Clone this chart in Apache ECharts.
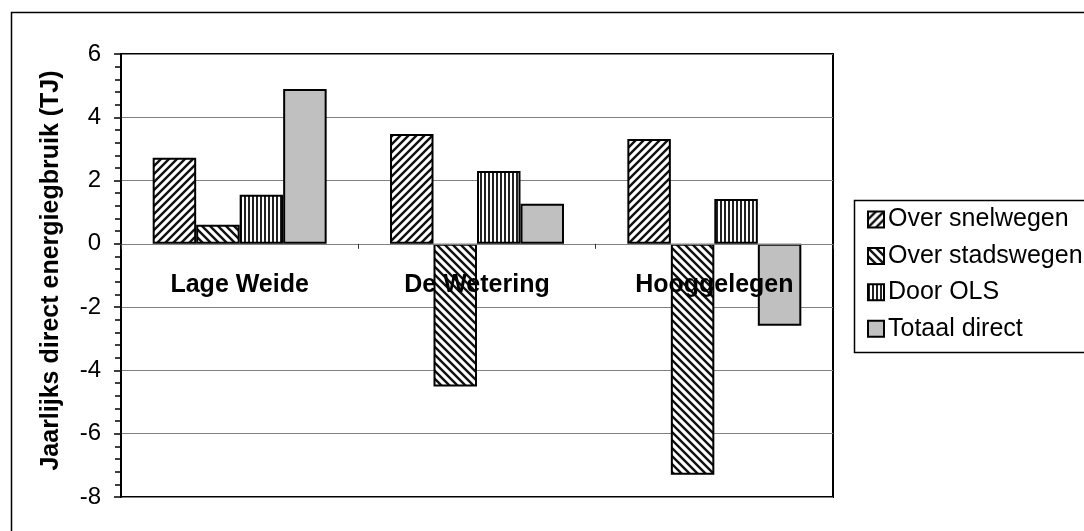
<!DOCTYPE html>
<html>
<head>
<meta charset="utf-8">
<script src="https://cdn.jsdelivr.net/npm/echarts@6/dist/echarts.min.js"></script>
<style>
  html, body { margin: 0; padding: 0; background: #fff; }
  #chart { width: 1084px; height: 531px; }
</style>
</head>
<body>
<div id="chart"></div>
<script>
// Yearly direct energy use per district (TJ)
const categories = ['Lage Weide', 'De Wetering', 'Hooggelegen'];
const seriesNames = ['Over snelwegen', 'Over stadswegen', 'Door OLS', 'Totaal direct'];
const overSnelwegen = [2.72, 3.47, 3.31];
const overStadswegen = [0.60, -4.51, -7.30];
const doorOLS = [1.55, 2.30, 1.42];
const totaalDirect = [4.89, 1.27, -2.59];
const yTicks = { min: -8, max: 6, step: 2 };

const FONT = "'Liberation Sans', Arial, sans-serif";

// Plot box in pixels
const GRID = { left: 121, top: 54, right: 251, bottom: 34 };
const plotHeight = 531 - GRID.top - GRID.bottom;
// Category axis sits on the zero line: shift it up from the plot bottom
const zeroOffset = -plotHeight * (0 - yTicks.min) / (yTicks.max - yTicks.min);

// Hatch fills built on small repeating canvases
function tile(w, h, draw) {
  const c = document.createElement('canvas');
  c.width = w; c.height = h;
  const ctx = c.getContext('2d');
  ctx.fillStyle = '#fff';
  ctx.fillRect(0, 0, w, h);
  draw(ctx);
  return { image: c, repeat: 'repeat' };
}
const upDiagonal = tile(8, 8, ctx => {
  ctx.strokeStyle = '#111'; ctx.lineWidth = 2.4;
  ctx.beginPath();
  ctx.moveTo(-2, 10); ctx.lineTo(10, -2);
  ctx.moveTo(-2, 2); ctx.lineTo(2, -2);
  ctx.moveTo(6, 10); ctx.lineTo(10, 6);
  ctx.stroke();
});
const downDiagonal = tile(8, 8, ctx => {
  ctx.strokeStyle = '#111'; ctx.lineWidth = 2.4;
  ctx.beginPath();
  ctx.moveTo(-2, -2); ctx.lineTo(10, 10);
  ctx.moveTo(6, -2); ctx.lineTo(10, 2);
  ctx.moveTo(-2, 6); ctx.lineTo(2, 10);
  ctx.stroke();
});
const vertical = tile(4, 4, ctx => {
  ctx.fillStyle = '#222';
  ctx.fillRect(0, 0, 2, 4);
});
const fills = [upDiagonal, downDiagonal, vertical, '#c0c0c0'];
const values = [overSnelwegen, overStadswegen, doorOLS, totaalDirect];

const chart = echarts.init(document.getElementById('chart'), null, { renderer: 'canvas' });

chart.setOption({
  animation: false,
  backgroundColor: '#fff',
  textStyle: { fontFamily: FONT },
  graphic: [
    { type: 'rect', z: -10, silent: true,
      shape: { x: 11.5, y: 12.5, width: 1200, height: 1000 },
      style: { fill: 'none', stroke: '#000', lineWidth: 1.5 } },
    { type: 'rect', z: -5, silent: true,
      shape: { x: 854.5, y: 200.5, width: 300, height: 152 },
      style: { fill: '#fff', stroke: '#000', lineWidth: 1.5 } }
  ],
  grid: {
    left: GRID.left, top: GRID.top, right: GRID.right, bottom: GRID.bottom,
    outerBoundsMode: 'none',
    containLabel: false,
    show: true, borderColor: '#000', borderWidth: 2, backgroundColor: 'transparent'
  },
  legend: {
    orient: 'vertical',
    left: 862, top: 202,
    itemWidth: 16, itemHeight: 16, itemGap: 11.4,
    icon: 'rect',
    data: seriesNames,
    textStyle: { fontSize: 25, color: '#000', fontFamily: FONT, lineHeight: 24, padding: [0, 0, 0, -1] }
  },
  xAxis: {
    type: 'category',
    data: categories,
    position: 'bottom',
    offset: zeroOffset,
    z: 10,
    axisLine: { show: true, onZero: false, lineStyle: { color: '#808080', width: 1 } },
    axisTick: { show: true, length: 5, lineStyle: { color: '#333', width: 1 } },
    axisLabel: {
      fontSize: 25, fontWeight: 'bold', color: '#000', fontFamily: FONT,
      margin: 29
    },
    splitLine: { show: false }
  },
  yAxis: {
    type: 'value',
    min: yTicks.min, max: yTicks.max, interval: yTicks.step,
    name: 'Jaarlijks direct energiegbruik (TJ)',
    nameLocation: 'middle',
    nameGap: 57,
    nameTextStyle: { fontSize: 25, fontWeight: 'bold', color: '#000', fontFamily: FONT, padding: [0, 0, 0, 10] },
    axisLine: { show: true, lineStyle: { color: '#000', width: 2 } },
    axisTick: { show: true, length: 7, lineStyle: { color: '#000', width: 1.5 } },
    minorTick: { show: true, splitNumber: 5, length: 6, lineStyle: { color: '#000', width: 1.5 } },
    axisLabel: { fontSize: 24, color: '#000', fontFamily: FONT, margin: 20 },
    splitLine: { show: true, lineStyle: { color: '#808080', width: 1 } }
  },
  series: seriesNames.map((name, i) => ({
    name,
    type: 'bar',
    data: values[i],
    barGap: '0%',
    barCategoryGap: '26.7%',
    itemStyle: { color: fills[i], borderColor: '#000', borderWidth: 2 }
  }))
});
</script>
</body>
</html>
